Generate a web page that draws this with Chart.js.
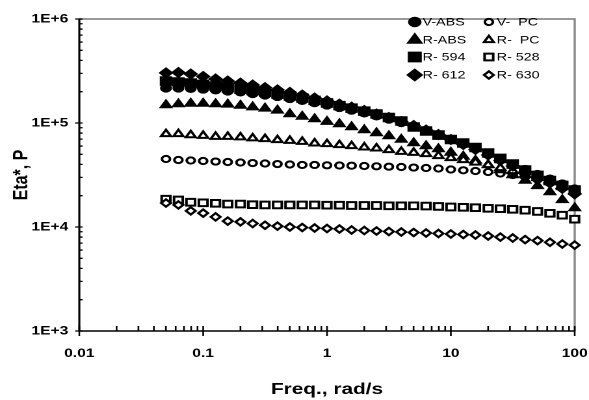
<!DOCTYPE html>
<html>
<head>
<meta charset="utf-8">
<script src="https://cdn.jsdelivr.net/npm/chart.js@4/dist/chart.umd.min.js"></script>
<style>
  html, body { margin: 0; padding: 0; background: #fff; }
  /* the original picture is stretched sideways, so the canvas is too */
  #chart { width: 589px !important; height: 400px !important; }
</style>
</head>
<body>
<canvas id="chart" width="453" height="400" style="width:589px;height:400px"></canvas>
<script>
// frequencies, rad/s
const freq = [0.0501, 0.0631, 0.0794, 0.1, 0.126, 0.158, 0.2, 0.251, 0.316, 0.398, 0.501,
  0.631, 0.794, 1, 1.26, 1.58, 2, 2.51, 3.16, 3.98, 5.01, 6.31, 7.94,
  10, 12.6, 15.8, 20, 25.1, 31.6, 39.8, 50.1, 63.1, 79.4, 100];

// Eta*, P
const vAbs = [2.17e5, 2.17e5, 2.15e5, 2.12e5, 2.08e5, 2.03e5, 1.99e5, 1.92e5, 1.86e5, 1.80e5, 1.72e5,
  1.65e5, 1.57e5, 1.49e5, 1.41e5, 1.33e5, 1.25e5, 1.17e5, 1.09e5, 1.01e5, 9.25e4, 8.47e4, 7.66e4,
  6.94e4, 6.28e4, 5.69e4, 5.09e4, 4.56e4, 4.03e4, 3.57e4, 3.20e4, 2.89e4, 2.59e4, 2.32e4];
const vPc = [4.51e4, 4.41e4, 4.36e4, 4.31e4, 4.26e4, 4.22e4, 4.17e4, 4.12e4, 4.08e4, 4.03e4, 3.99e4,
  3.95e4, 3.95e4, 3.92e4, 3.90e4, 3.885e4, 3.86e4, 3.835e4, 3.80e4, 3.775e4, 3.73e4, 3.69e4, 3.65e4,
  3.57e4, 3.51e4, 3.455e4, 3.38e4, 3.27e4, 3.16e4, 3.03e4, 2.86e4, 2.68e4, 2.48e4, 2.27e4];
const rAbs = [1.49e5, 1.52e5, 1.54e5, 1.54e5, 1.52e5, 1.51e5, 1.47e5, 1.42e5, 1.38e5, 1.32e5, 1.22e5,
  1.155e5, 1.09e5, 1.03e5, 9.78e4, 9.15e4, 8.56e4, 8.01e4, 7.50e4, 6.94e4, 6.42e4, 6.01e4, 5.62e4,
  5.20e4, 4.76e4, 4.36e4, 3.95e4, 3.53e4, 3.16e4, 2.80e4, 2.48e4, 2.17e4, 1.82e4, 1.52e4];
const rPc = [7.84e4, 7.84e4, 7.66e4, 7.55e4, 7.385e4, 7.385e4, 7.29e4, 7.13e4, 7.02e4, 6.86e4, 6.76e4,
  6.61e4, 6.38e4, 6.28e4, 6.14e4, 6.01e4, 5.84e4, 5.71e4, 5.50e4, 5.30e4, 5.18e4, 5.03e4, 4.82e4,
  4.61e4, 4.41e4, 4.17e4, 3.95e4, 3.69e4, 3.455e4, 3.20e4, 2.96e4, 2.71e4, 2.45e4, 2.22e4];
const r594 = [2.53e5, 2.48e5, 2.42e5, 2.35e5, 2.27e5, 2.19e5, 2.12e5, 2.05e5, 1.99e5, 1.90e5, 1.82e5,
  1.74e5, 1.65e5, 1.56e5, 1.47e5, 1.39e5, 1.30e5, 1.22e5, 1.13e5, 1.045e5, 9.15e4, 8.38e4, 7.66e4,
  6.94e4, 6.42e4, 5.81e4, 5.15e4, 4.56e4, 4.03e4, 3.53e4, 3.13e4, 2.80e4, 2.51e4, 2.27e4];
const r528 = [1.85e4, 1.82e4, 1.73e4, 1.71e4, 1.69e4, 1.66e4, 1.66e4, 1.64e4, 1.63e4, 1.63e4, 1.63e4,
  1.63e4, 1.63e4, 1.62e4, 1.62e4, 1.61e4, 1.61e4, 1.61e4, 1.60e4, 1.60e4, 1.60e4, 1.59e4, 1.575e4,
  1.557e4, 1.547e4, 1.534e4, 1.514e4, 1.50e4, 1.48e4, 1.45e4, 1.41e4, 1.355e4, 1.30e4, 1.19e4];
const r612 = [3.03e5, 3.06e5, 2.96e5, 2.80e5, 2.65e5, 2.53e5, 2.42e5, 2.32e5, 2.19e5, 2.08e5, 1.97e5,
  1.86e5, 1.74e5, 1.63e5, 1.52e5, 1.42e5, 1.32e5, 1.22e5, 1.13e5, 1.03e5, 9.46e4, 8.56e4, 7.75e4,
  6.94e4, 6.21e4, 5.56e4, 4.92e4, 4.36e4, 3.86e4, 3.38e4, 2.99e4, 2.65e4, 2.35e4, 2.08e4];
const r630 = [1.70e4, 1.63e4, 1.43e4, 1.36e4, 1.25e4, 1.14e4, 1.12e4, 1.08e4, 1.04e4, 1.02e4, 1.0e4,
  9.89e3, 9.78e3, 9.67e3, 9.57e3, 9.36e3, 9.25e3, 9.16e3, 9.06e3, 8.96e3, 8.86e3, 8.76e3, 8.66e3,
  8.57e3, 8.47e3, 8.38e3, 8.19e3, 8.0e3, 7.83e3, 7.57e3, 7.40e3, 7.13e3, 6.87e3, 6.70e3];

const xTickValues = [0.01, 0.1, 1, 10, 100];
const xTickLabels = ['0.01', '0.1', '1', '10', '100'];
const yTickValues = [1e3, 1e4, 1e5, 1e6];
const yTickLabels = ['1E+3', '1E+4', '1E+5', '1E+6'];

// series in the original's order, legend goes row by row in two columns
const series = [
  { label: 'V-ABS', data: vAbs, style: 'circle', open: false, r: 4.2 },
  { label: 'V-  PC', data: vPc, style: 'circle', open: true, r: 3.1 },
  { label: 'R-ABS', data: rAbs, style: 'triangle', open: false, r: 5.6 },
  { label: 'R-  PC', data: rPc, style: 'triangle', open: true, r: 4.3 },
  { label: 'R- 594', data: r594, style: 'rect', open: false, r: 6.2 },
  { label: 'R- 528', data: r528, style: 'rect', open: true, r: 4.7 },
  { label: 'R- 612', data: r612, style: 'rectRot', open: false, r: 5.2 },
  { label: 'R- 630', data: r630, style: 'rectRot', open: true, r: 3.7 }
];

const FONT = "'Liberation Sans', Arial, sans-serif";

// plot frame, log ticks (major crossing the axis, minor inside)
const frameTicks = {
  id: 'frameTicks',
  beforeDatasetsDraw(chart){
    const {ctx, chartArea: a, scales: {x, y}} = chart;
    ctx.save();
    ctx.strokeStyle = '#8a8a8a';
    ctx.lineWidth = 1.7;
    ctx.beginPath();
    ctx.moveTo(a.left, a.top); ctx.lineTo(a.right, a.top); ctx.lineTo(a.right, a.bottom);
    ctx.stroke();

    ctx.strokeStyle = '#000';
    ctx.lineWidth = 1.3;
    ctx.beginPath();
    for(let e = -2; e < 2; e++){
      for(let k = 1; k <= 9; k++){
        const px = x.getPixelForValue(k * Math.pow(10, e));
        ctx.moveTo(px, a.bottom - 5);
        ctx.lineTo(px, k === 1 ? a.bottom + 5 : a.bottom);
      }
    }
    ctx.moveTo(x.getPixelForValue(100), a.bottom - 5); ctx.lineTo(x.getPixelForValue(100), a.bottom + 5);
    for(let e = 3; e < 6; e++){
      for(let k = 1; k <= 9; k++){
        const py = y.getPixelForValue(k * Math.pow(10, e));
        ctx.moveTo(k === 1 ? a.left - 3.2 : a.left, py);
        ctx.lineTo(a.left + 2.5, py);
      }
    }
    ctx.moveTo(a.left - 3.2, y.getPixelForValue(1e6)); ctx.lineTo(a.left + 2.5, y.getPixelForValue(1e6));
    ctx.stroke();

    ctx.lineWidth = 1.6;
    ctx.beginPath();
    ctx.moveTo(a.left, a.top); ctx.lineTo(a.left, a.bottom); ctx.lineTo(a.right, a.bottom);
    ctx.stroke();
    ctx.restore();
  }
};

// two-column legend box in the top right corner
const legendGrid = {
  id: 'legendGrid',
  afterDraw(chart){
    const ctx = chart.ctx;
    const colText = [325, 382];
    const rowY = [22, 40, 57, 75];
    ctx.save();
    ctx.font = '11px ' + FONT;
    ctx.fillStyle = '#000';
    ctx.textBaseline = 'middle';
    chart.data.datasets.forEach((ds, i) => {
      const tx = colText[i % 2], ty = rowY[Math.floor(i / 2)];
      Chart.helpers.drawPoint(ctx, {
        pointStyle: ds.pointStyle, radius: ds.pointRadius, borderWidth: ds.borderWidth, rotation: 0
      }, tx - 6, ty);
      ctx.fillStyle = ds.pointBackgroundColor;
      ctx.strokeStyle = '#000';
      ctx.lineWidth = ds.borderWidth;
      ctx.fill();
      if(ds.borderWidth) ctx.stroke();
      ctx.fillStyle = '#000';
      ctx.fillText(ds.label, tx, ty + 0.5);
    });
    ctx.restore();
  }
};

const datasets = series.map((s, i) => ({
  label: s.label,
  data: freq.map((f, j) => ({ x: f, y: s.data[j] })),
  pointStyle: s.style,
  pointRadius: s.r,
  pointBackgroundColor: s.open ? '#fff' : '#000',
  pointBorderColor: '#000',
  borderWidth: s.open ? 2 : 0.8,
  pointBorderWidth: s.open ? 2 : 0.8,
  showLine: false,
  clip: false,
  order: series.length - i
}));

// tick marks are drawn by frameTicks; the library's own ones stay invisible
// and only push the labels away from the axis
const hiddenGrid = len => ({
  display: true, drawOnChartArea: false, drawTicks: true, tickLength: len, color: 'rgba(0,0,0,0)'
});

new Chart(document.getElementById('chart'), {
  type: 'scatter',
  data: { datasets },
  options: {
    responsive: false,
    devicePixelRatio: 2,
    animation: false,
    layout: { padding: { left: 0, right: 11, top: 19, bottom: 0 } },
    plugins: { legend: { display: false }, tooltip: { enabled: false } },
    scales: {
      x: {
        type: 'logarithmic', min: 0.01, max: 100,
        grid: hiddenGrid(15.5),
        border: { display: false },
        afterBuildTicks: sc => { sc.ticks = xTickValues.map(v => ({ value: v })); },
        afterFit: sc => { sc.height = 69; },
        ticks: {
          autoSkip: false, maxRotation: 0, padding: 0, color: '#000',
          font: { family: FONT, size: 12, weight: 'bold' },
          callback: (v, i) => xTickLabels[i]
        },
        title: {
          display: true, text: 'Freq., rad/s', color: '#000',
          font: { family: FONT, size: 16, weight: 'bold' },
          padding: { top: 0, bottom: 1 }
        }
      },
      y: {
        type: 'logarithmic', min: 1e3, max: 1e6,
        grid: hiddenGrid(7),
        border: { display: false },
        afterBuildTicks: sc => { sc.ticks = yTickValues.map(v => ({ value: v })); },
        afterFit: sc => { sc.width = 61; },
        ticks: {
          autoSkip: false, padding: 1.5, color: '#000',
          font: { family: FONT, size: 12, weight: 'bold' },
          callback: (v, i) => yTickLabels[i]
        },
        title: {
          display: true, text: 'Eta*, P', color: '#000',
          font: { family: FONT, size: 16, weight: 'bold' },
          padding: { top: 7, bottom: 0 }
        }
      }
    }
  },
  plugins: [frameTicks, legendGrid]
});
</script>
</body>
</html>
